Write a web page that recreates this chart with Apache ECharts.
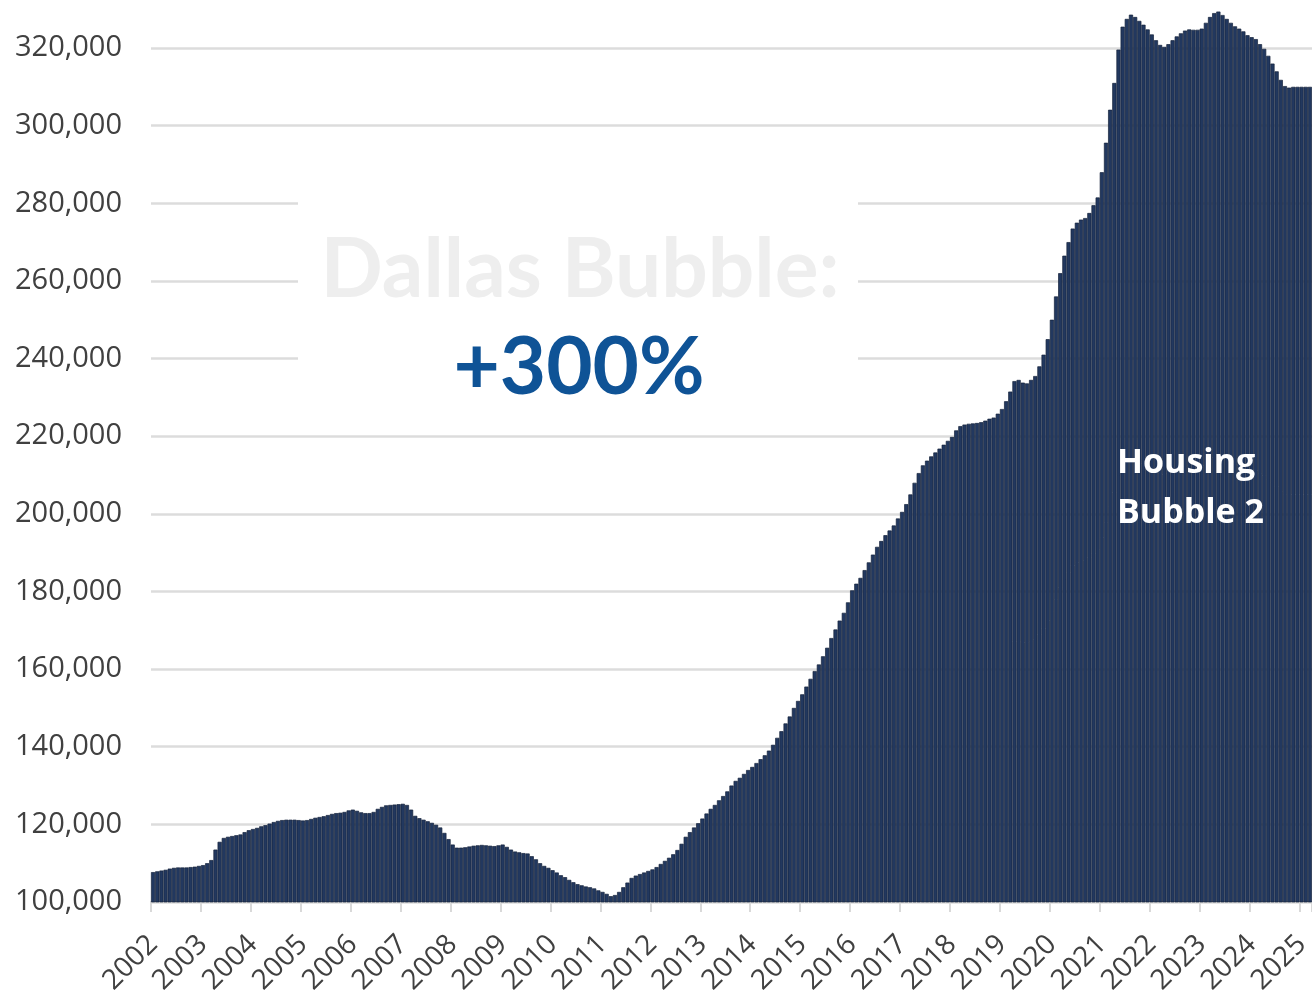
<!DOCTYPE html>
<html>
<head>
<meta charset="utf-8">
<script src="https://cdn.jsdelivr.net/npm/echarts@6/dist/echarts.min.js"></script>
<style>
html,body{margin:0;padding:0;background:#fff;}
#chart{width:1312px;height:995px;}
</style>
</head>
<body>
<div id="chart"></div>
<script>
const years = ['2002','2003','2004','2005','2006','2007','2008','2009','2010','2011','2012','2013','2014','2015','2016','2017','2018','2019','2020','2021','2022','2023','2024','2025'];
const v2002 = [107700,107900,108100,108300,108600,108800,108900,108900,108900,109000,109100,109300];
const v2003 = [109500,110000,110800,113500,115500,116500,116800,117000,117200,117400,118000,118500];
const v2004 = [118800,119100,119500,119800,120200,120600,120900,121100,121200,121200,121200,121100];
const v2005 = [121000,121100,121400,121700,121900,122100,122400,122700,122900,123000,123200,123600];
const v2006 = [123800,123500,123100,122900,122900,123200,124000,124500,124900,125000,125100,125200];
const v2007 = [125300,125000,123800,122200,121600,121200,120800,120400,119900,119200,117800,116200];
const v2008 = [114800,114000,114000,114100,114300,114500,114600,114700,114600,114500,114400,114600];
const v2009 = [114800,114200,113500,113000,112800,112600,112500,111800,111000,110000,109300,108800];
const v2010 = [108200,107600,106900,106400,105700,105100,104600,104300,104000,103800,103500,103000];
const v2011 = [102600,102100,101500,101800,102600,103800,105000,106200,106800,107200,107600,108000];
const v2012 = [108400,109000,109800,110600,111400,112300,113400,115000,116800,118000,119200,120300];
const v2013 = [121500,122800,124000,125000,126200,127300,128500,130000,131200,132000,133000,134000];
const v2014 = [134800,135800,136800,137800,139000,140500,142300,144000,146000,147800,150000,151800];
const v2015 = [153500,155500,157500,159500,161200,163300,165500,168000,170200,172500,174500,177200];
const v2016 = [180300,182000,183500,185500,187500,189500,191500,193000,194500,195700,197000,198800];
const v2017 = [200500,202500,205000,208000,210500,212500,213700,214800,215800,216800,217800,218800];
const v2018 = [219800,221500,222600,223000,223200,223300,223400,223600,224000,224500,224800,225800];
const v2019 = [227000,229000,231500,234200,234500,233800,233600,234500,235500,238000,241000,245000];
const v2020 = [250000,256000,262000,266500,270000,273500,275000,275800,276200,277500,279500,281500];
const v2021 = [288000,295600,304100,311000,319600,325500,327500,328600,328000,327000,326000,324800];
const v2022 = [323500,322000,320800,320300,321000,322000,323000,323800,324500,324800,324700,324700];
const v2023 = [325000,326500,328000,329000,329400,328500,327500,326500,325600,325000,324300,323300];
const v2024 = [322800,322300,321000,319800,318000,316000,314000,311800,310200,309800,310000,310000];
const v2025 = [310000,310000,310000];

const yearly = [v2002,v2003,v2004,v2005,v2006,v2007,v2008,v2009,v2010,v2011,v2012,v2013,v2014,v2015,v2016,v2017,v2018,v2019,v2020,v2021,v2022,v2023,v2024,v2025];
const categories = [];
const values = [];
yearly.forEach((arr, yi) => {
  arr.forEach((v, mi) => {
    categories.push(years[yi] + '-' + String(mi + 1).padStart(2, '0'));
    values.push(v);
  });
});

const chart = echarts.init(document.getElementById('chart'), null, {renderer: 'canvas'});
const labelFont = '"Open Sans", "DejaVu Sans", sans-serif';
chart.setOption({
  animation: false,
  backgroundColor: '#ffffff',
  grid: {left: 151, right: 0, top: -29.6, bottom: 93, containLabel: false, outerBoundsMode: 'none'},
  xAxis: {
    type: 'category',
    data: categories,
    boundaryGap: true,
    axisLine: {show: true, lineStyle: {color: '#d9d9d9', width: 2}},
    axisTick: {show: true, length: 10, lineStyle: {color: '#d9d9d9', width: 2},
      interval: (idx) => idx % 12 === 0},
    axisLabel: {
      interval: (idx) => idx % 12 === 0,
      formatter: (val) => val.slice(0, 4),
      rotate: 45,
      margin: 38,
      fontSize: 28,
      fontFamily: labelFont,
      color: '#404040'
    },
    splitLine: {show: false}
  },
  yAxis: {
    type: 'value',
    min: 100000,
    max: 340000,
    interval: 20000,
    axisLine: {show: false},
    axisTick: {show: false},
    axisLabel: {
      margin: 29,
      fontSize: 29,
      fontFamily: labelFont,
      color: '#404040',
      formatter: (v) => v > 330000 ? '' : v.toLocaleString('en-US')
    },
    splitLine: {show: true, lineStyle: {color: '#dcdcdc', width: 2.5}}
  },
  series: [{
    type: 'bar',
    data: values,
    barWidth: '100%',
    barCategoryGap: '0%',
    itemStyle: {color: '#22385f', borderColor: '#16233b', borderWidth: 0.7},
    z: 2
  }],
  graphic: [
    {type: 'rect', z: 1, shape: {x: 298, y: 196, width: 560, height: 226}, style: {fill: '#ffffff'}},
    {type: 'text', z: 3, x: 580, y: 271, style: {text: 'Dallas Bubble:', fill: '#eeeeee', font: 'bold 82px Lato, "Open Sans", sans-serif', align: 'center', verticalAlign: 'middle'}},
    {type: 'text', z: 3, x: 579, y: 368, style: {text: '+300%', fill: '#0f5396', font: 'bold 80px Lato, "Open Sans", sans-serif', align: 'center', verticalAlign: 'middle'}},
    {type: 'text', z: 3, x: 1117, y: 463, style: {text: 'Housing', fill: '#ffffff', font: 'bold 34px "Open Sans", sans-serif', align: 'left', verticalAlign: 'middle'}},
    {type: 'text', z: 3, x: 1117, y: 513, style: {text: 'Bubble 2', fill: '#ffffff', font: 'bold 34px "Open Sans", sans-serif', align: 'left', verticalAlign: 'middle'}}
  ]
});
</script>
</body>
</html>
